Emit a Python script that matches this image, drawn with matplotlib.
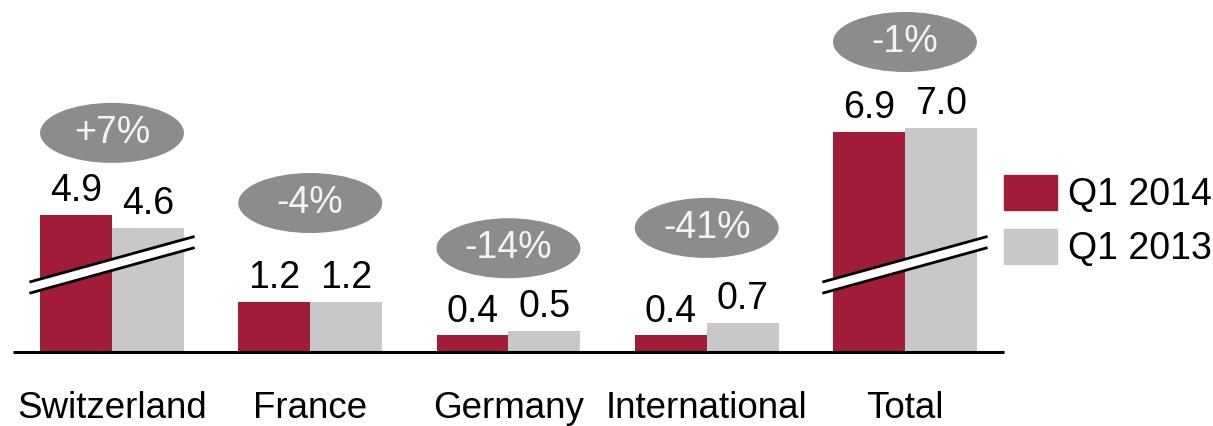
import matplotlib.pyplot as plt
from matplotlib.patches import Ellipse, Patch
import numpy as np

plt.rcParams['font.family'] = ['Liberation Sans', 'DejaVu Sans']

regions = ['Switzerland', 'France', 'Germany', 'International', 'Total']
q1_2014 = [4.9, 1.2, 0.4, 0.4, 6.9]
q1_2013 = [4.6, 1.2, 0.5, 0.7, 7.0]
changes = ['+7%', '-4%', '-14%', '-41%', '-1%']
broken = [True, False, False, False, True]

# how much of a broken bar is cut out, and where the cut sits
cut_amount = 1.6
cut_level = 2.1
# space between the taller bar and the change bubble
bubble_gap = [1.98, 2.39, 2.0, 2.29, 2.07]

red = '#A01C37'
grey = '#C8C8C8'
bubble = '#8C8C8C'
fs = 27

fig = plt.figure(figsize=(12.13, 4.26), dpi=100)
ax = fig.add_axes([0, 0, 1, 1])
ax.set_xlim(-0.565, 5.554)
ax.set_ylim(-1.783, 8.482)
ax.axis('off')

x = np.arange(len(regions))
w = 0.363


def shown(v, cut):
    return v - cut_amount if cut else v


h14 = [shown(v, c) for v, c in zip(q1_2014, broken)]
h13 = [shown(v, c) for v, c in zip(q1_2013, broken)]

ax.bar(x - w / 2, h14, w, color=red, zorder=2)
ax.bar(x + w / 2, h13, w, color=grey, zorder=2)
ax.hlines(0, -0.5, 4.5, color='black', lw=2.2, zorder=3)

for i in range(len(regions)):
    for xx, v, h in [(x[i] - w / 2, q1_2014[i], h14[i]), (x[i] + w / 2, q1_2013[i], h13[i])]:
        ax.annotate(f'{v:.1f}', (xx, h), xytext=(0, 10), textcoords='offset points',
                    ha='center', va='baseline', fontsize=fs, color='black')

    top = max(h14[i], h13[i]) + bubble_gap[i]
    ax.add_patch(Ellipse((x[i], top), 0.726, 1.446, color=bubble, lw=0, zorder=4))
    ax.text(x[i], top, changes[i], ha='center', va='center', fontsize=fs,
            color='#F4F4F4', zorder=5)

    ax.text(x[i], -1.59, regions[i], ha='center', va='baseline', fontsize=26.5, color='black')

    # axis-break marks across the shortened bars
    if broken[i]:
        bx = np.array([x[i] - 0.41, x[i] + 0.41])
        slope = 1.084 / 0.822
        mid = cut_level + slope * (bx - x[i])
        gap = 0.135
        ax.fill_between(bx, mid - gap, mid + gap, color='white', lw=0, zorder=6)
        ax.plot(bx, mid + gap, color='black', lw=2, zorder=7)
        ax.plot(bx, mid - gap, color='black', lw=2, zorder=7)

handles = [Patch(color=red, label='Q1 2014'), Patch(color=grey, label='Q1 2013')]
ax.legend(handles=handles, loc='upper left', bbox_to_anchor=(1004 / 1213, 1 - 175 / 426),
          frameon=False, fontsize=fs, handlelength=1.4, handleheight=1.05,
          handletextpad=0.3, labelspacing=0.42, borderpad=0, borderaxespad=0)

fig.savefig('out.png', dpi=100)
